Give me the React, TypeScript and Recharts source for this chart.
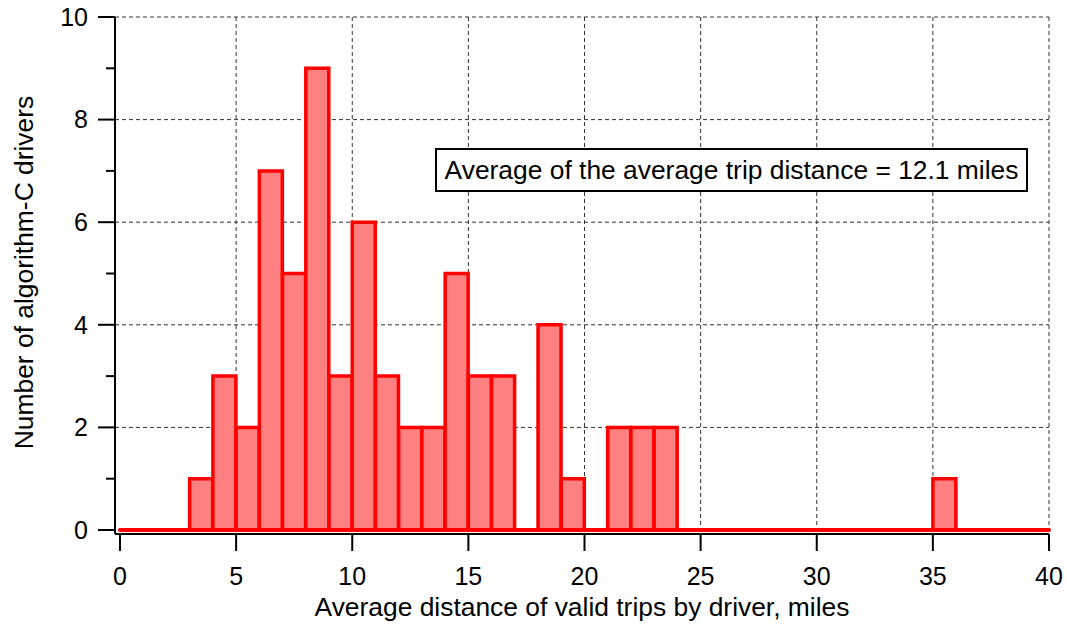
import { ComposedChart, Bar, XAxis, YAxis, CartesianGrid, ReferenceLine, Label } from "recharts";

const binStarts = [0, 1, 2, 3, 4, 5, 6, 7, 8, 9, 10, 11, 12, 13, 14, 15, 16, 17, 18, 19, 20, 21, 22, 23, 24, 25, 26, 27, 28, 29, 30, 31, 32, 33, 34, 35, 36, 37, 38, 39];
const driverCounts = [0, 0, 0, 1, 3, 2, 7, 5, 9, 3, 6, 3, 2, 2, 5, 3, 3, 0, 4, 1, 0, 2, 2, 2, 0, 0, 0, 0, 0, 0, 0, 0, 0, 0, 0, 1, 0, 0, 0, 0];
const xTicks = [0, 5, 10, 15, 20, 25, 30, 35, 40];
const yTicks = [0, 1, 2, 3, 4, 5, 6, 7, 8, 9, 10];
const xGrid = [5, 10, 15, 20, 25, 30, 35, 40];
const yGrid = [2, 4, 6, 8, 10];
const meanNote = "Average of the average trip distance = 12.1 miles";

const data = binStarts.map((bin, i) => ({ bin, count: driverCounts[i] }));

const FONT = '"Liberation Sans", Arial, sans-serif';

// y axis ticks: long ones with labels on even values, short minor ones on odd
function YTick(props: any) {
  const { x, y, payload } = props;
  const axisX = x + 27;
  const major = payload.value % 2 === 0;
  return (
    <g>
      <line x1={axisX - (major ? 17 : 9)} x2={axisX} y1={y} y2={y} stroke="#000" strokeWidth={2} />
      {major && (
        <text x={x} y={y} dy="0.35em" textAnchor="end" fontSize={25} fontFamily={FONT} fill="#000">
          {payload.value}
        </text>
      )}
    </g>
  );
}

export default function App() {
  return (
    <div style={{ position: "absolute", left: 0, top: 0, width: 1067, height: 628, fontFamily: FONT }}>
      <ComposedChart width={1067} height={628} data={data} margin={{ top: 17, right: 18, left: 0, bottom: 0 }} barCategoryGap={0} barGap={0}>
        <CartesianGrid xAxisId="num" stroke="#333" strokeDasharray="4 3" verticalValues={xGrid} horizontalValues={yGrid} />
        <XAxis xAxisId="cat" dataKey="bin" type="category" hide height={0} padding={{ left: 5, right: 0 }} />
        <XAxis
          xAxisId="num"
          dataKey="bin"
          type="number"
          domain={[0, 40]}
          ticks={xTicks}
          padding={{ left: 5, right: 0 }}
          height={94}
          axisLine={{ stroke: "#000", strokeWidth: 2 }}
          tickLine={{ stroke: "#000", strokeWidth: 2 }}
          tickSize={17}
          tickMargin={16}
          tick={{ fill: "#000", fontSize: 25, fontFamily: FONT }}
          interval={0}
        >
          <Label value="Average distance of valid trips by driver, miles" position="center" dy={26} fill="#000" fontSize={26.4} fontFamily={FONT} />
        </XAxis>
        <YAxis
          domain={[0, 10]}
          ticks={yTicks}
          interval={0}
          width={115}
          padding={{ top: 0, bottom: 4 }}
          axisLine={{ stroke: "#000", strokeWidth: 2 }}
          tickLine={false}
          tickSize={17}
          tickMargin={10}
          tick={<YTick />}
        >
          <Label value="Number of algorithm-C drivers" position="center" angle={-90} dx={-34} dy={-3} fill="#000" fontSize={26.4} fontFamily={FONT} />
        </YAxis>
        <Bar xAxisId="cat" dataKey="count" fill="#FF8080" stroke="#FF0000" strokeWidth={3.5} isAnimationActive={false} />
        <ReferenceLine
          xAxisId="num"
          segment={[{ x: 0, y: 0 }, { x: 40, y: 0 }]}
          stroke="#FF0000"
          strokeWidth={4}
          strokeLinecap="round"
        />
      </ComposedChart>
      <div
        style={{
          position: "absolute",
          left: 435,
          top: 148,
          width: 593,
          height: 44,
          boxSizing: "border-box",
          border: "2px solid #000",
          background: "#fff",
          fontSize: 26.4,
          lineHeight: "40px",
          textAlign: "center",
          whiteSpace: "nowrap",
          color: "#000",
        }}
      >
        {meanNote}
      </div>
    </div>
  );
}
